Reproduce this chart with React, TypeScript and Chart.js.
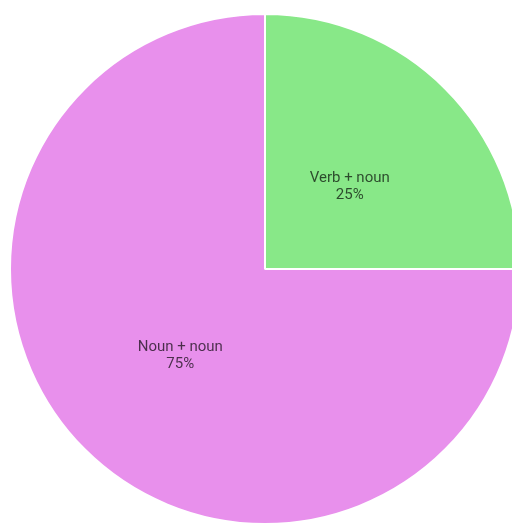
import React, { useEffect, useRef } from "react";
import { Chart, registerables } from "chart.js";

Chart.register(...registerables);

const categories = ["Verb + noun", "Noun + noun"];
const values = [25, 75];
const colors = ["#88e888", "#e890ec"];

const labelPlugin = {
  id: "sliceLabels",
  afterDatasetsDraw(chart: any) {
    const { ctx } = chart;
    const meta = chart.getDatasetMeta(0);
    const data = chart.data.datasets[0].data as number[];
    const total = data.reduce((a, b) => a + b, 0);
    ctx.save();
    ctx.font = "15px Roboto";
    ctx.textAlign = "center";
    ctx.textBaseline = "middle";
    ctx.fillStyle = "rgba(0,0,0,0.68)";
    meta.data.forEach((arc: any, i: number) => {
      const p = arc.getProps(["x", "y", "startAngle", "endAngle", "outerRadius"], true);
      const mid = (p.startAngle + p.endAngle) / 2;
      const r = p.outerRadius * 0.47;
      const x = p.x + Math.cos(mid) * r;
      const y = p.y + Math.sin(mid) * r;
      const pct = Math.round((data[i] / total) * 100) + "%";
      ctx.fillText(chart.data.labels[i], x, y - 6);
      ctx.fillText(pct, x, y + 11);
    });
    ctx.restore();
  },
};

export default function App() {
  const ref = useRef<HTMLCanvasElement>(null);
  useEffect(() => {
    document.body.style.overflow = "hidden";
    const chart = new Chart(ref.current!, {
      type: "pie",
      data: {
        labels: categories,
        datasets: [
          {
            data: values,
            backgroundColor: colors,
            borderColor: "#ffffff",
            borderWidth: 2,
          },
        ],
      },
      options: {
        animation: false,
        responsive: true,
        maintainAspectRatio: false,
        layout: { padding: { left: 1, right: 1, top: 5, bottom: 7 } },
        plugins: {
          legend: { display: false },
          tooltip: { enabled: false },
        },
      },
      plugins: [labelPlugin],
    });
    return () => chart.destroy();
  }, []);
  return (
    <div style={{ width: 514, height: 524, position: "relative" }}>
      <canvas ref={ref} />
    </div>
  );
}
